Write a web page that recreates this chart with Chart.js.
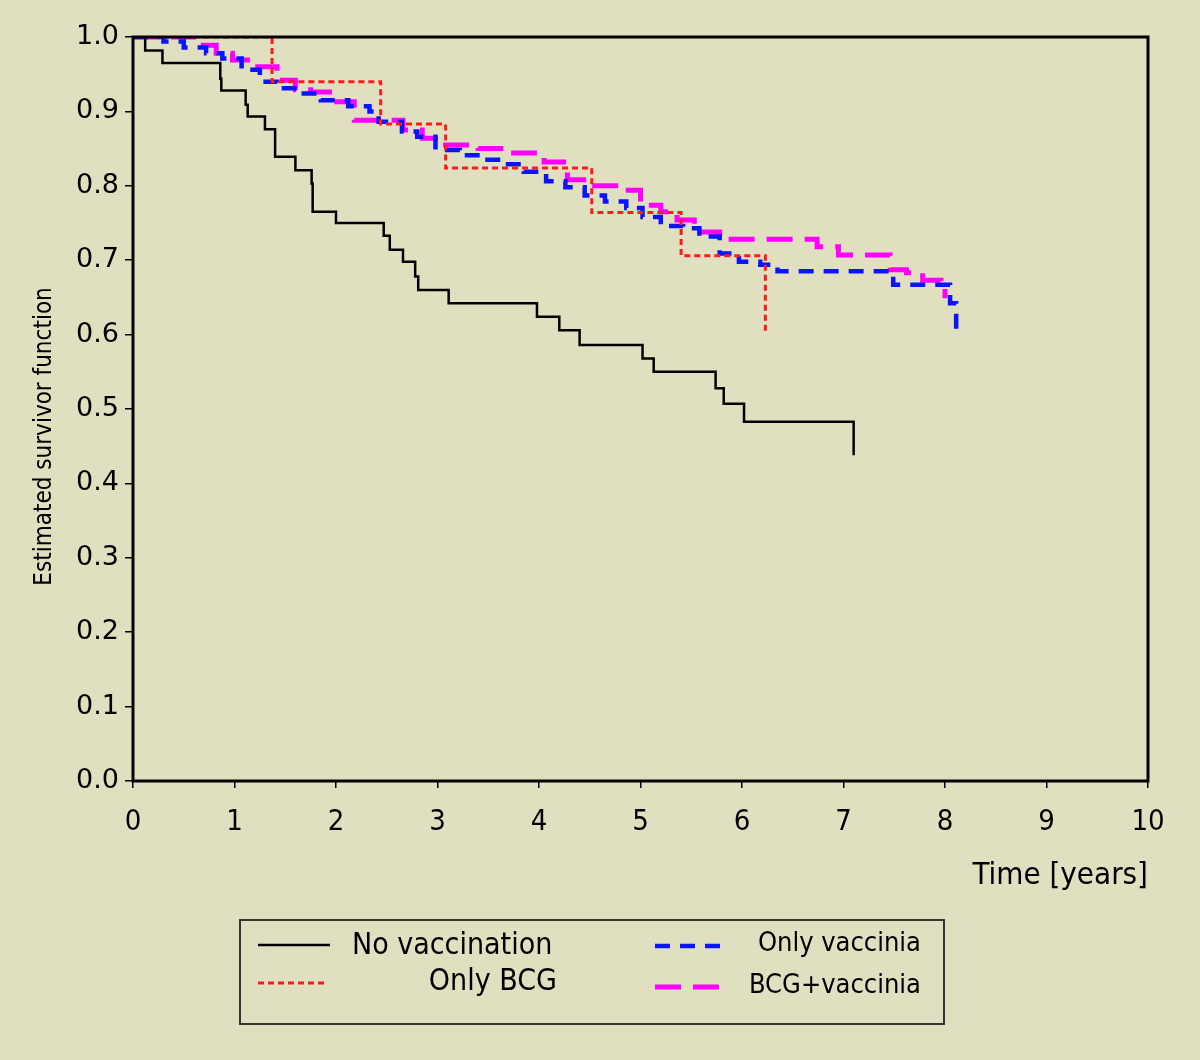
<!DOCTYPE html>
<html>
<head>
<meta charset="utf-8">
<script src="https://cdn.jsdelivr.net/npm/chart.js@4.4.1/dist/chart.umd.min.js"></script>
<style>
  body { margin: 0; background: #e0dfc0; }
  canvas { display: block; }
</style>
</head>
<body>
<canvas id="km" width="1200" height="1060"></canvas>
<script>
// Kaplan-Meier step data (time in years, survivor function)
const noVacTime = [0, 0.12, 0.29, 0.86, 0.87, 1.11, 1.13, 1.30, 1.40, 1.60, 1.76, 1.77, 2.00, 2.47, 2.53, 2.66, 2.78, 2.81, 3.11, 3.98, 4.20, 4.40, 5.02, 5.13, 5.74, 5.82, 6.02, 7.10];
const noVacSurv = [1.0, 0.982, 0.965, 0.944, 0.928, 0.909, 0.893, 0.876, 0.839, 0.821, 0.803, 0.765, 0.750, 0.733, 0.714, 0.698, 0.678, 0.660, 0.642, 0.624, 0.606, 0.586, 0.568, 0.550, 0.528, 0.507, 0.483, 0.438];

const bcgTime = [0, 1.37, 2.44, 3.08, 4.52, 5.40, 6.23];
const bcgSurv = [1.0, 0.940, 0.883, 0.824, 0.764, 0.706, 0.602];

const vacTime = [0, 0.30, 0.50, 0.72, 0.88, 1.07, 1.25, 1.42, 1.62, 1.85, 2.12, 2.33, 2.42, 2.65, 2.80, 2.98, 3.22, 3.45, 3.65, 3.85, 4.07, 4.26, 4.45, 4.65, 4.86, 5.02, 5.20, 5.42, 5.58, 5.78, 5.97, 6.18, 6.35, 7.49, 8.05, 8.11];
const vacSurv = [1.0, 0.994, 0.986, 0.978, 0.971, 0.956, 0.940, 0.931, 0.924, 0.915, 0.907, 0.900, 0.886, 0.873, 0.866, 0.848, 0.841, 0.835, 0.829, 0.819, 0.806, 0.798, 0.787, 0.779, 0.770, 0.758, 0.746, 0.743, 0.732, 0.709, 0.698, 0.694, 0.685, 0.667, 0.642, 0.607];

const bothTime = [0, 0.62, 0.82, 0.98, 1.20, 1.42, 1.60, 1.75, 1.97, 2.18, 2.66, 2.85, 3.03, 3.40, 3.75, 4.05, 4.28, 4.52, 4.80, 5.00, 5.20, 5.36, 5.53, 5.78, 6.74, 6.95, 7.46, 7.62, 7.78, 7.96, 8.00];
const bothSurv = [1.0, 0.989, 0.978, 0.969, 0.960, 0.942, 0.929, 0.926, 0.913, 0.888, 0.875, 0.864, 0.855, 0.850, 0.844, 0.832, 0.808, 0.800, 0.794, 0.774, 0.765, 0.754, 0.738, 0.728, 0.718, 0.707, 0.687, 0.683, 0.673, 0.671, 0.649];

const seriesNames = ["No vaccination", "Only BCG", "Only vaccinia", "BCG+vaccinia"];
const xTickLabels = ["0", "1", "2", "3", "4", "5", "6", "7", "8", "9", "10"];
const yTickLabels = ["0.0", "0.1", "0.2", "0.3", "0.4", "0.5", "0.6", "0.7", "0.8", "0.9", "1.0"];

const toPoints = (t, s) => t.map((x, i) => ({ x: x, y: s[i] }));

const narrow = '"DejaVu Sans Condensed", "Liberation Sans Narrow", "DejaVu Sans", sans-serif';
const bg = "#e0dfc0";

// legend placement: [lineX1, lineX2, lineY, textX, textY, align, fontSize]
const legendSpots = [
  [258, 330, 945, 352, 946, "left", 30],
  [258, 328, 983, 557, 982, "right", 30],
  [655, 727, 946, 921, 944, "right", 27],
  [655, 722, 987, 921, 986, "right", 27],
];

const framePlugin = {
  id: "frame",
  beforeDraw(chart) {
    const c = chart.ctx;
    c.save();
    c.fillStyle = bg;
    c.fillRect(0, 0, chart.width, chart.height);
    c.restore();
  },
  afterDatasetsDraw(chart) {
    const a = chart.chartArea;
    const c = chart.ctx;
    c.save();
    c.strokeStyle = "#000";
    c.lineWidth = 3;
    c.strokeRect(a.left, a.top, a.right - a.left, a.bottom - a.top);
    c.restore();
  },
  afterDraw(chart) {
    const c = chart.ctx;
    c.save();
    c.strokeStyle = "#333";
    c.lineWidth = 2;
    c.strokeRect(240, 920, 704, 104);
    chart.data.datasets.forEach((ds, i) => {
      const p = legendSpots[i];
      c.beginPath();
      c.strokeStyle = ds.borderColor;
      c.lineWidth = ds.borderWidth;
      c.setLineDash(ds.borderDash || []);
      c.moveTo(p[0], p[2]);
      c.lineTo(p[1], p[2]);
      c.stroke();
      c.setLineDash([]);
      c.fillStyle = "#000";
      c.font = p[6] + "px " + narrow;
      c.textAlign = p[5];
      c.textBaseline = "middle";
      c.fillText(ds.label, p[3], p[4]);
    });
    c.restore();
  }
};

new Chart(document.getElementById("km"), {
  type: "line",
  data: {
    datasets: [
      {
        label: seriesNames[0],
        data: toPoints(noVacTime, noVacSurv),
        borderColor: "#000000",
        borderWidth: 2.5,
      },
      {
        label: seriesNames[1],
        data: toPoints(bcgTime, bcgSurv),
        borderColor: "#ff1a1a",
        borderWidth: 3,
        borderDash: [6, 4],
      },
      {
        label: seriesNames[2],
        data: toPoints(vacTime, vacSurv),
        borderColor: "#0a14ff",
        borderWidth: 4.5,
        borderDash: [15, 10],
      },
      {
        label: seriesNames[3],
        data: toPoints(bothTime, bothSurv),
        borderColor: "#ff00ff",
        borderWidth: 5,
        borderDash: [26, 12],
      },
    ],
  },
  options: {
    responsive: false,
    animation: false,
    events: [],
    elements: {
      line: { stepped: "before", fill: false, tension: 0, borderCapStyle: "butt" },
      point: { radius: 0 },
    },
    layout: { padding: { left: 0, top: 37, right: 52, bottom: 159 } },
    plugins: {
      legend: { display: false },
      tooltip: { enabled: false },
    },
    scales: {
      x: {
        type: "linear",
        min: 0,
        max: 10,
        afterFit: (s) => { s.height = 120; },
        border: { display: false },
        grid: { drawOnChartArea: false, drawTicks: true, tickLength: 7, color: "#000", lineWidth: 1.5 },
        ticks: {
          stepSize: 1,
          padding: 17,
          color: "#000",
          font: { size: 29, family: narrow },
          callback: (v, i) => xTickLabels[i],
        },
        title: {
          display: true,
          text: "Time [years]",
          align: "end",
          color: "#000",
          font: { size: 31, family: narrow },
          padding: { top: 0, bottom: 6 },
        },
      },
      y: {
        min: 0,
        max: 1,
        afterFit: (s) => { s.width = 133; },
        border: { display: false },
        grid: { drawOnChartArea: false, drawTicks: true, tickLength: 8, color: "#000", lineWidth: 1.5 },
        ticks: {
          stepSize: 0.1,
          padding: 6,
          color: "#000",
          font: { size: 27, family: '"DejaVu Sans", Verdana, sans-serif' },
          callback: (v, i) => yTickLabels[i],
        },
        title: {
          display: true,
          // trailing spaces push the rotated text down a little, as in the original
          text: "Estimated survivor function        ",
          color: "#000",
          font: { size: 24, family: narrow },
          padding: { top: 30, bottom: 0 },
        },
      },
    },
  },
  plugins: [framePlugin],
});
</script>
</body>
</html>
